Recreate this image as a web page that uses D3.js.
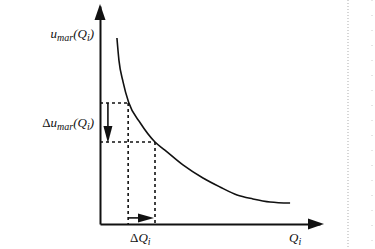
<!DOCTYPE html>
<html><head><meta charset="utf-8">
<script src="https://cdn.jsdelivr.net/npm/d3@7"></script>
<style>
html,body{margin:0;padding:0;background:#fff;}
svg{display:block;}
text{font-family:"Liberation Serif","DejaVu Serif",serif;font-style:italic;fill:#111;}
</style></head>
<body>
<svg id="chart" width="375" height="249"></svg>
<script>
// Marginal utility curve (Q, u)
const curveQ = [0.77, 0.86, 1.05, 1.30, 1.84, 2.50, 2.95, 3.77, 4.68, 5.45, 6.23, 6.95, 7.73, 8.64];
const curveU = [8.53, 7.52, 6.51, 5.58, 4.62, 3.76, 3.39, 2.71, 2.11, 1.70, 1.33, 1.15, 1.01, 0.96];
// Dashed guide positions
const guideQ = [1.28, 2.50];
const guideU = [5.55, 3.76];
// Arrow positions
const arrowVQ = 0.36;   // vertical Δu arrow x
const arrowHU = 0.28;   // horizontal ΔQ arrow y

const svg = d3.select("#chart");
const x = d3.scaleLinear().domain([0, 10]).range([100, 320]);
const y = d3.scaleLinear().domain([0, 10]).range([224, 6]);
const ink = "#111";

// scan artefact on the right
svg.append("line").attr("x1",348).attr("x2",348).attr("y1",0).attr("y2",249)
  .attr("stroke","#bbb").attr("stroke-width",1.2).attr("stroke-dasharray","1,2");
svg.append("line").attr("x1",372).attr("x2",372).attr("y1",0).attr("y2",249)
  .attr("stroke","#ccc").attr("stroke-width",1).attr("stroke-dasharray","1,14");

// Axes (no ticks)
const gx = svg.append("g").attr("transform", `translate(0,${y(0)})`)
  .call(d3.axisBottom(x).tickValues([]).tickSizeOuter(0));
const gy = svg.append("g").attr("transform", `translate(${x(0)},0)`)
  .call(d3.axisLeft(y).tickValues([]).tickSizeOuter(0));
[gx, gy].forEach(g => g.select(".domain").attr("stroke", ink).attr("stroke-width", 2));

// axis arrowheads
svg.append("path").attr("fill", ink)
  .attr("d", `M${x(0)},${y(10)-2} L${x(0)-5.5},${y(10)+14} L${x(0)+5.5},${y(10)+14} Z`);
svg.append("path").attr("fill", ink)
  .attr("d", `M${x(10)+4},${y(0)} L${x(10)-12},${y(0)-5.5} L${x(10)-12},${y(0)+5.5} Z`);

// Dashed guides
const dash = "3,3";
guideQ.forEach((q, i) => {
  svg.append("line").attr("x1", x(0)).attr("x2", x(q)).attr("y1", y(guideU[i])).attr("y2", y(guideU[i]))
    .attr("stroke", ink).attr("stroke-width", 1.6).attr("stroke-dasharray", dash);
  svg.append("line").attr("x1", x(q)).attr("x2", x(q)).attr("y1", y(guideU[i])).attr("y2", y(0))
    .attr("stroke", ink).attr("stroke-width", 1.6).attr("stroke-dasharray", dash);
});

// Curve
const pts = curveQ.map((q, i) => [q, curveU[i]]);
svg.append("path").datum(pts)
  .attr("fill", "none").attr("stroke", ink).attr("stroke-width", 1.6)
  .attr("d", d3.line().x(d => x(d[0])).y(d => y(d[1])).curve(d3.curveMonotoneX));

// Vertical Δu arrow
const ax = x(arrowVQ);
svg.append("line").attr("x1", ax).attr("x2", ax).attr("y1", y(guideU[0])).attr("y2", y(guideU[1]) - 14)
  .attr("stroke", ink).attr("stroke-width", 1.6);
svg.append("path").attr("fill", ink)
  .attr("d", `M${ax},${y(guideU[1])+1} L${ax-4.5},${y(guideU[1])-16} L${ax+4.5},${y(guideU[1])-16} Z`);

// Horizontal ΔQ arrow
const ay = y(arrowHU);
svg.append("line").attr("x1", x(guideQ[0])).attr("x2", x(guideQ[1]) - 14).attr("y1", ay).attr("y2", ay)
  .attr("stroke", ink).attr("stroke-width", 1.6);
svg.append("path").attr("fill", ink)
  .attr("d", `M${x(guideQ[1])-1},${ay} L${x(guideQ[1])-17},${ay-4.5} L${x(guideQ[1])-17},${ay+4.5} Z`);

// Labels
function label(xp, yp, parts, anchor) {
  const t = svg.append("text").attr("x", xp).attr("y", yp).attr("text-anchor", anchor).attr("font-size", 13);
  parts.forEach(p => {
    const s = t.append("tspan").text(p.t);
    if (p.sub) s.attr("font-size", 10).attr("dy", 3);
    if (p.up) s.attr("dy", -3);
    if (p.up2) s.attr("dy", -3);
    if (p.roman) s.style("font-style", "normal");
  });
  return t;
}
label(94, 38, [{t:"u"},{t:"mar",sub:1},{t:"(Q",up:1},{t:"i",sub:1},{t:")",up:1}], "end");
label(94, 127, [{t:"Δ",roman:1},{t:"u"},{t:"mar",sub:1},{t:"(Q",up:1},{t:"i",sub:1},{t:")",up:1}], "end");
label(130, 242, [{t:"Δ",roman:1},{t:"Q"},{t:"i",sub:1}], "start");
label(289, 242, [{t:"Q"},{t:"i",sub:1}], "start");
</script>
</body></html>
